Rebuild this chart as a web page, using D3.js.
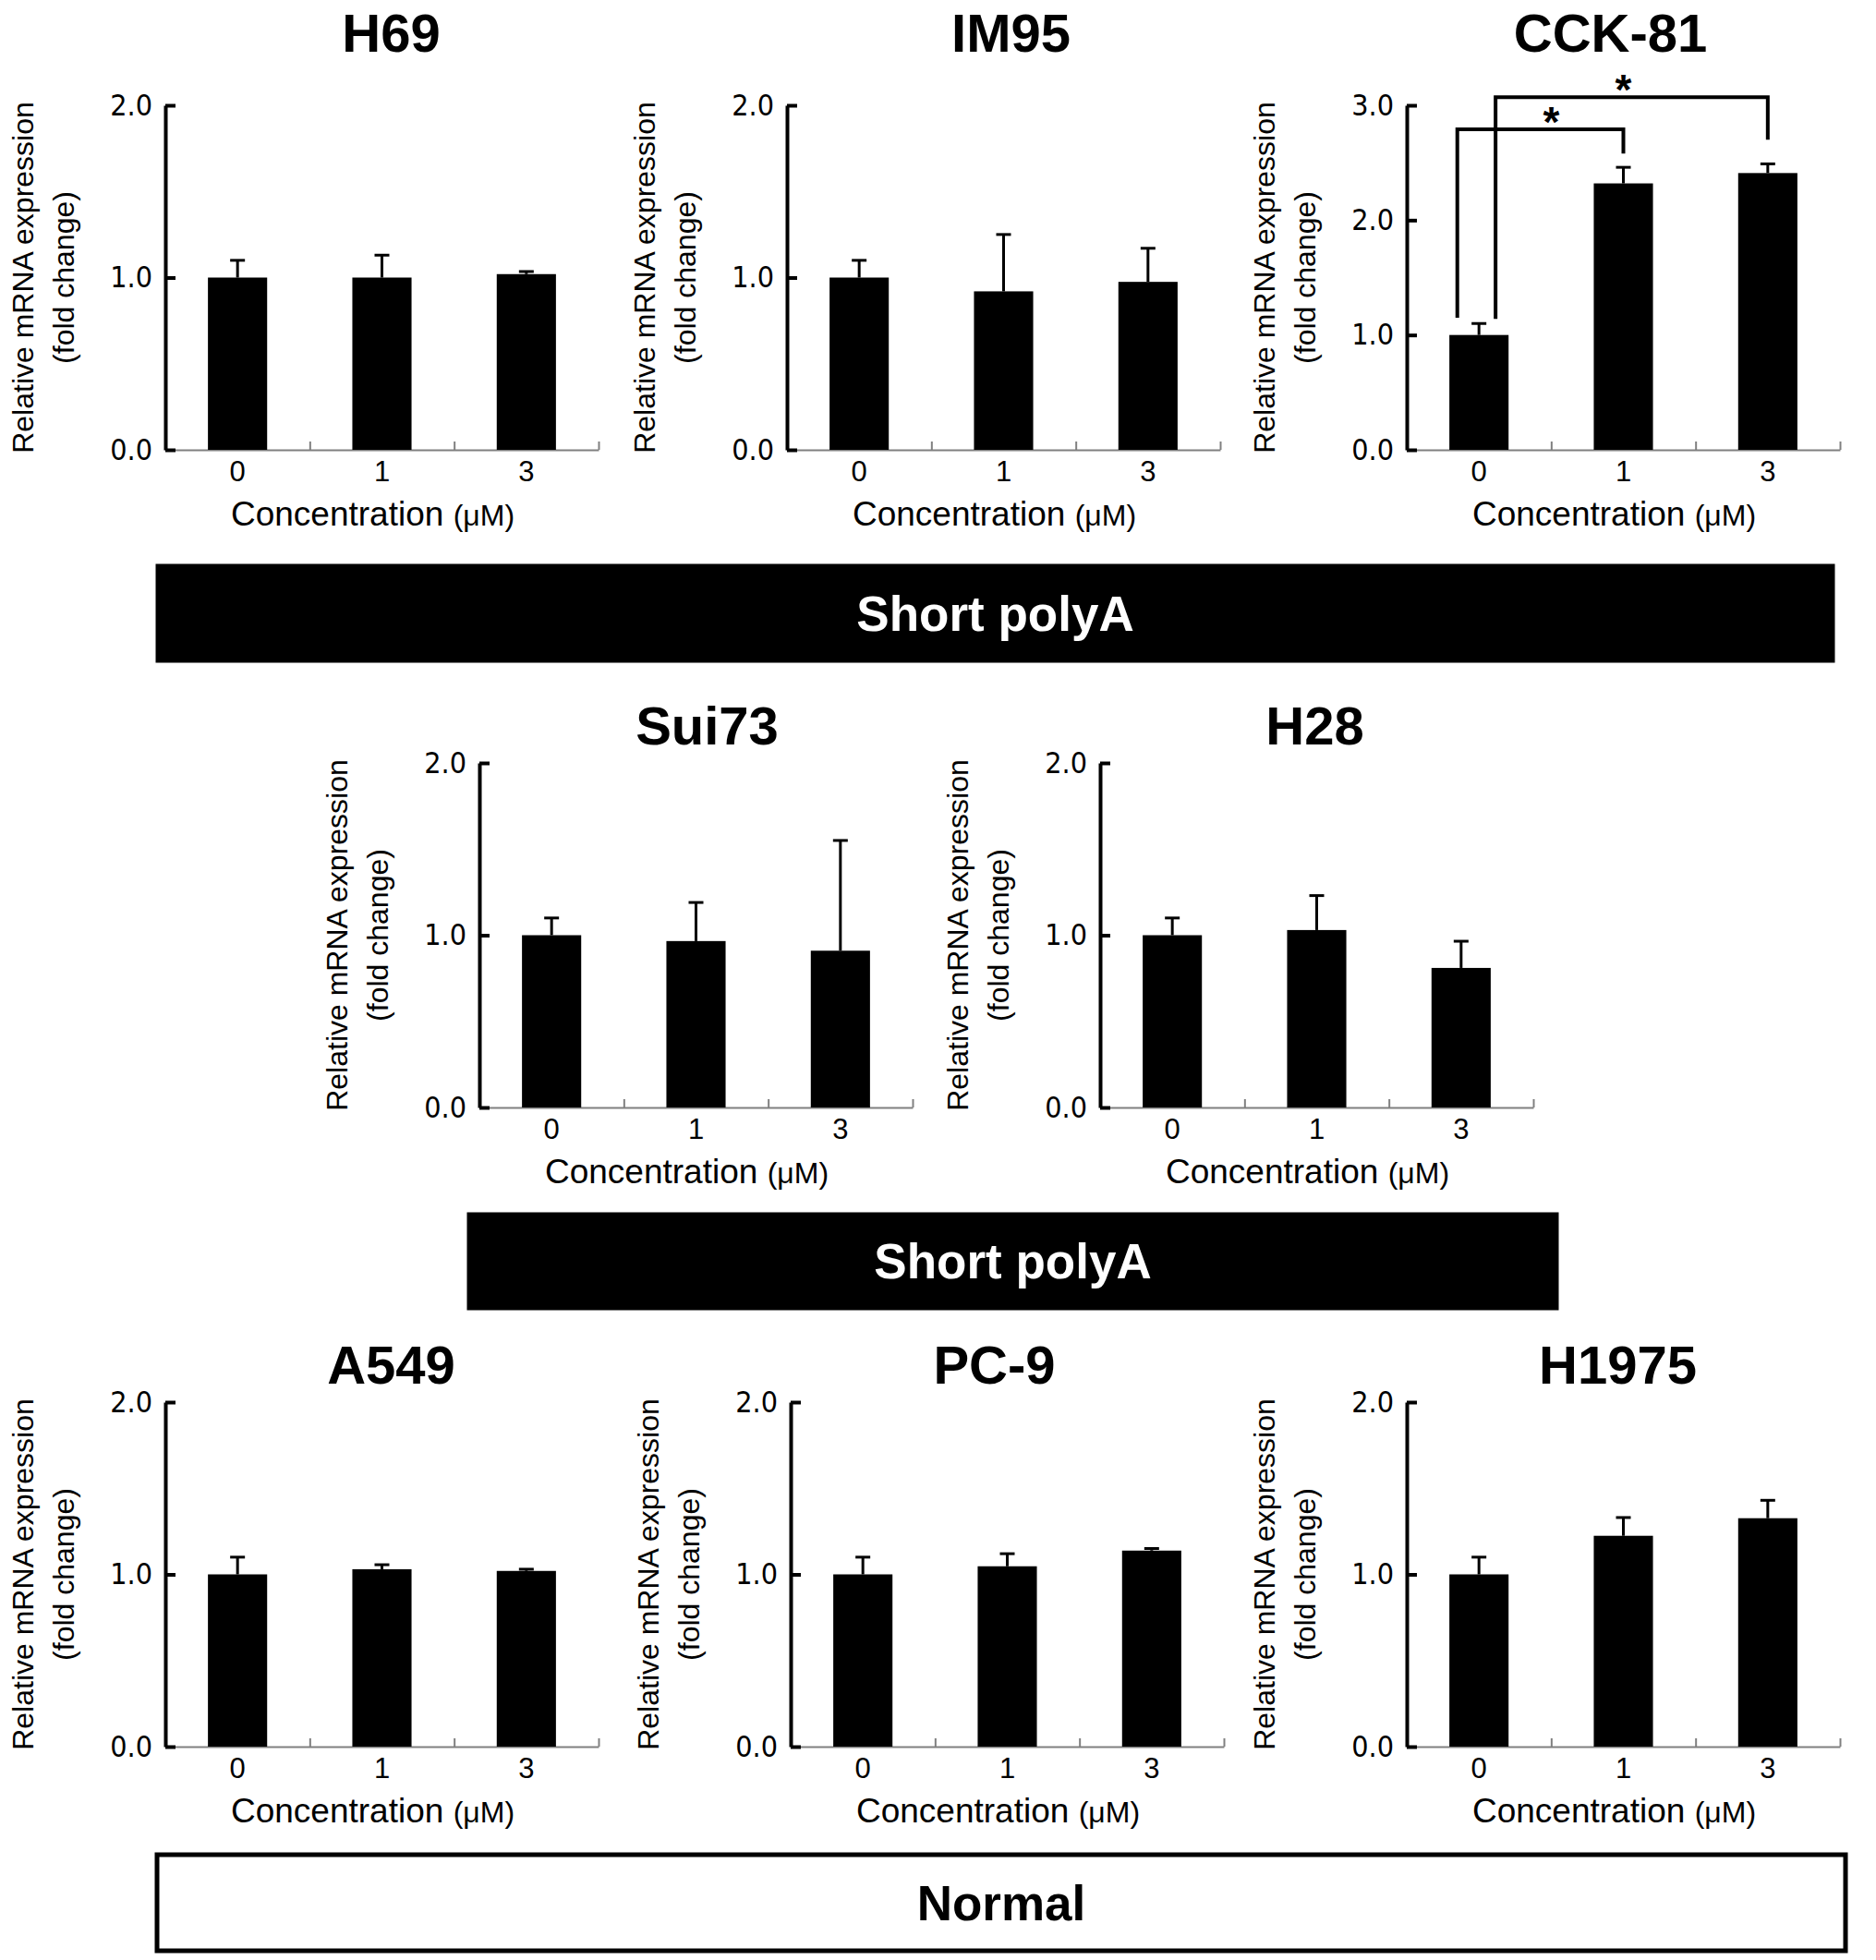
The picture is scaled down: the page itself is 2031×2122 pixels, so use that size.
<!DOCTYPE html>
<html>
<head>
<meta charset="utf-8">
<script src="https://cdn.jsdelivr.net/npm/d3@7"></script>
<style>
  body { margin: 0; background: #fff; }
  text { font-family: "Liberation Sans", Arial, sans-serif; fill: #000; }
</style>
</head>
<body>
<script>
// ---- data ----
const cellLines = ["H69", "IM95", "CCK-81", "Sui73", "H28", "A549", "PC-9", "H1975"]
const concentrations = ["0", "1", "3"]

const meanValues = [
    [1.00, 1.00, 1.02],
    [1.00, 0.92, 0.975],
    [1.00, 2.32, 2.41],
    [1.00, 0.966, 0.91],
    [1.00, 1.03, 0.81],
    [1.00, 1.03, 1.02],
    [1.00, 1.047, 1.138],
    [1.00, 1.224, 1.326]
]
const errorValues = [
    [0.10, 0.13, 0.015],
    [0.10, 0.33, 0.195],
    [0.10, 0.14, 0.08],
    [0.10, 0.224, 0.64],
    [0.10, 0.20, 0.155],
    [0.10, 0.026, 0.01],
    [0.10, 0.073, 0.012],
    [0.10, 0.106, 0.104]
]
const yMaxValues = [2, 2, 3, 2, 2, 2, 2, 2]
const yTicks2 = [0, 1, 2]
const yTicks3 = [0, 1, 2, 3]

const xAxisLabel = "Concentration"
const xAxisUnit = "(\u03BCM)"
const yAxisLabel = ["Relative mRNA expression", "(fold change)"]
const groupLabels = ["Short polyA", "Short polyA", "Normal"]

// significance brackets on CCK-81: [from, to], [left foot, top, right foot]
const sigPanel = "CCK-81"
const sigPairs = [["0", "1"], ["0", "3"]]
const sigLevels = [[1.15, 2.79, 2.58], [1.14, 3.07, 2.70]]
const sigLabels = ["*", "*"]

// ---- layout ----
const width = 2031
const height = 2122
const plotW = 469
const plotH = 373

const panels = [
    { x: 179, y: 114 }, { x: 852, y: 114 }, { x: 1523, y: 114 },
    { x: 519, y: 826 }, { x: 1191, y: 826 },
    { x: 179, y: 1518 }, { x: 856, y: 1518 }, { x: 1523, y: 1518 }
]
const titleShift = [10, 8, -14, 12, -2, 10, -14, -6]

const groupBoxes = [
    { x: 169, y: 611, w: 1817, h: 106, dark: true },
    { x: 506, y: 1313, w: 1181, h: 105, dark: true },
    { x: 170, y: 2008, w: 1828, h: 104, dark: false }
]

var svg = d3.select("body")
    .append("svg")
    .attr("width", width)
    .attr("height", height)

cellLines.forEach(function (name, i) {
    var p = panels[i]
    var g = svg.append("g").attr("transform", "translate(" + p.x + "," + p.y + ")")

    var x = d3.scaleBand()
        .domain(concentrations)
        .range([0, plotW])
    var y = d3.scaleLinear()
        .domain([0, yMaxValues[i]])
        .range([plotH, 0])

    var barW = x.bandwidth() * 0.41
    var data = concentrations.map((c, j) => ({ c: c, v: meanValues[i][j], e: errorValues[i][j] }))

    // x axis: grey baseline with small marks at band edges
    var edges = d3.scaleLinear().domain([0, 3]).range([0, plotW])
    var gx = g.append("g")
        .attr("transform", "translate(0," + plotH + ")")
        .call(d3.axisBottom(edges).tickValues([1, 2, 3]).tickSize(-9).tickSizeOuter(0).tickFormat(""))
    gx.select(".domain").attr("stroke", "#808080").attr("stroke-width", 2)
    gx.selectAll(".tick line").attr("stroke", "#808080").attr("stroke-width", 2)

    var gxl = g.append("g")
        .attr("transform", "translate(0," + plotH + ")")
        .call(d3.axisBottom(x).tickSize(0).tickPadding(12))
    gxl.select(".domain").remove()
    gxl.selectAll("text")
        .style("font-family", "'Liberation Sans', Arial, sans-serif")
        .style("font-size", "31px")

    // bars
    g.selectAll("rect.bar")
        .data(data)
        .join("rect")
        .attr("class", "bar")
        .attr("x", d => x(d.c) + (x.bandwidth() - barW) / 2)
        .attr("y", d => y(d.v))
        .attr("width", barW)
        .attr("height", d => plotH - y(d.v))
        .attr("fill", "#000")

    // upper error bars
    var eb = g.selectAll("g.err")
        .data(data)
        .join("g")
        .attr("class", "err")
        .attr("transform", d => "translate(" + (x(d.c) + x.bandwidth() / 2) + ",0)")
    eb.append("line")
        .attr("y1", d => y(d.v))
        .attr("y2", d => y(d.v + d.e))
        .attr("stroke", "#000").attr("stroke-width", 3)
    eb.append("line")
        .attr("x1", -8).attr("x2", 8)
        .attr("y1", d => y(d.v + d.e))
        .attr("y2", d => y(d.v + d.e))
        .attr("stroke", "#000").attr("stroke-width", 3)

    // y axis
    var gy = g.append("g")
        .call(d3.axisLeft(y)
            .tickValues(yMaxValues[i] == 3 ? yTicks3 : yTicks2)
            .tickSize(-11)
            .tickSizeOuter(0)
            .tickPadding(14)
            .tickFormat(d3.format(".1f")))
    gy.select(".domain").attr("stroke", "#000").attr("stroke-width", 4)
    gy.selectAll(".tick line").attr("stroke", "#000").attr("stroke-width", 4)
    gy.selectAll("text")
        .style("font-family", "'Liberation Sans Narrow', 'DejaVu Sans Condensed', 'Liberation Sans', sans-serif")
        .style("font-size", "32px")

    // axis titles
    var xl = g.append("text")
        .attr("x", plotW / 2 - 10)
        .attr("y", plotH + 82)
        .attr("text-anchor", "middle")
        .style("font-size", "37px")
        .text(xAxisLabel + " ")
    xl.append("tspan").style("font-size", "32px").text(xAxisUnit)

    var yl = g.append("g")
        .attr("transform", "translate(-132," + (plotH / 2) + ") rotate(-90)")
    yl.selectAll("text")
        .data(yAxisLabel)
        .join("text")
        .attr("x", 0)
        .attr("y", (d, k) => k == 0 ? -22 : 22)
        .attr("text-anchor", "middle")
        .attr("dominant-baseline", "central")
        .style("font-size", "32px")
        .text(d => d)

    // panel title
    g.append("text")
        .attr("x", plotW / 2 + titleShift[i])
        .attr("y", i < 3 ? -58 : -20)
        .attr("text-anchor", "middle")
        .style("font-size", "58px")
        .style("font-weight", "bold")
        .text(name)

    // significance brackets
    if (name == sigPanel) {
        sigPairs.forEach(function (pair, k) {
            var lv = sigLevels[k]
            var xa = x(pair[0]) + x.bandwidth() / 2 + (k == 0 ? -0.15 : 0.115) * x.bandwidth()
            var xb = x(pair[1]) + x.bandwidth() / 2
            g.append("path")
                .attr("d", "M" + xa + "," + y(lv[0]) + "V" + y(lv[1]) + "H" + xb + "V" + y(lv[2]))
                .attr("fill", "none")
                .attr("stroke", "#000")
                .attr("stroke-width", 4)
            g.append("text")
                .attr("x", (x(pair[0]) + x.bandwidth() / 2 + xb) / 2)
                .attr("y", y(lv[1]) + 8)
                .attr("text-anchor", "middle")
                .style("font-size", "46px")
                .style("font-weight", "bold")
                .text(sigLabels[k])
        })
    }
})

// group boxes
groupBoxes.forEach(function (b, i) {
    svg.append("rect")
        .attr("x", b.x).attr("y", b.y)
        .attr("width", b.w).attr("height", b.h)
        .attr("fill", b.dark ? "#000" : "#fff")
        .attr("stroke", "#000")
        .attr("stroke-width", b.dark ? 1 : 5)
    svg.append("text")
        .attr("x", b.x + b.w / 2)
        .attr("y", b.y + b.h / 2)
        .attr("dominant-baseline", "central")
        .attr("text-anchor", "middle")
        .style("font-size", "53px")
        .style("font-weight", "bold")
        .style("fill", b.dark ? "#fff" : "#000")
        .text(groupLabels[i])
})
</script>
</body>
</html>
